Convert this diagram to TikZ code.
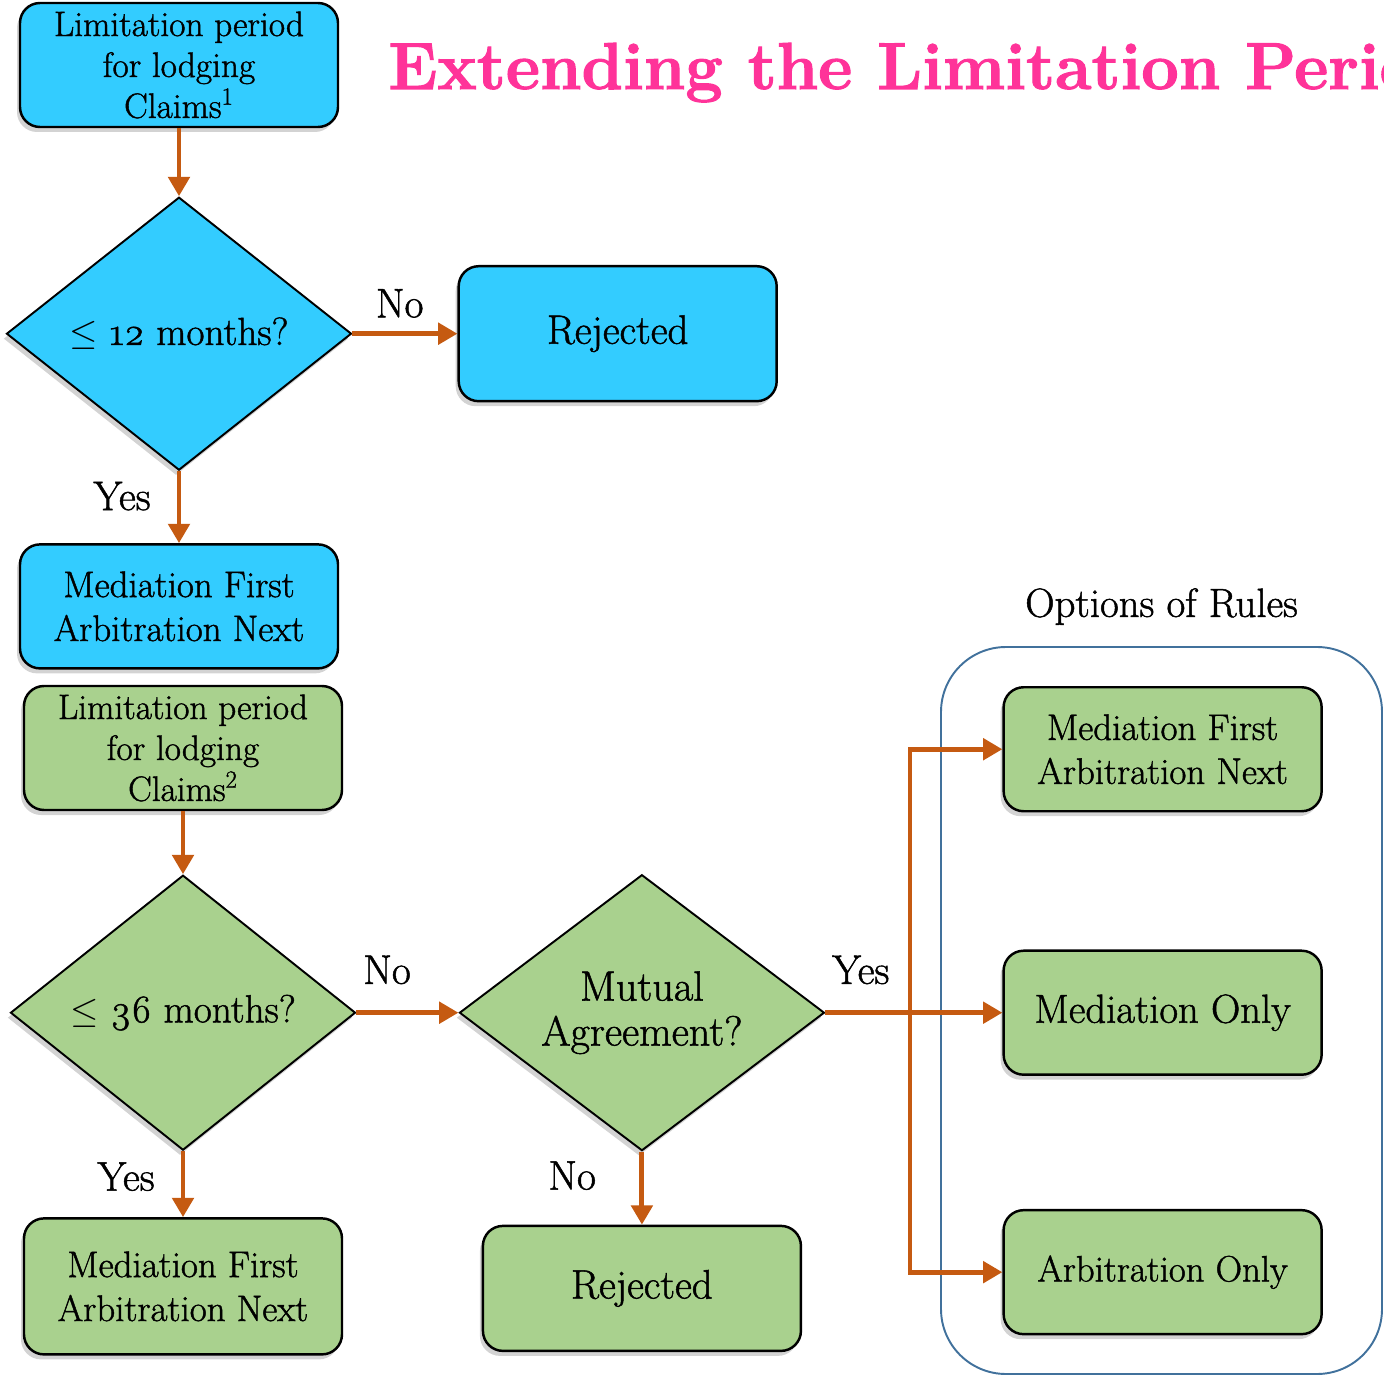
\documentclass[tikz,border=0pt]{standalone}
\usepackage{fontspec}
\newfontfamily\chartfont{Latin Modern Roman}[FakeBold=1.2]
\newfontfamily\titlefont{Latin Modern Roman}[FakeBold=1.6]
\usetikzlibrary{shapes, arrows}
\usetikzlibrary{arrows.meta,shapes.geometric,shadows}
\usetikzlibrary{positioning}

\begin{document}
\begin{tikzpicture}[
		    box/.style={draw,rounded corners=0.4cm,line width=1.4pt,align=center,inner sep=0pt,minimum width=6.36cm,minimum height=2.48cm,drop shadow={shadow xshift=-0.6mm,shadow yshift=-1mm,opacity=0.35}},
		    decision/.style={draw,diamond,aspect=1.3,line width=1.1pt,align=center,inner sep=0pt,minimum width=6.9cm,minimum height=5.46cm,drop shadow={shadow xshift=-0.6mm,shadow yshift=-1mm,opacity=0.35}},
		    flow/.style={-{Triangle[length=11pt,width=12pt]},line width=2.8pt,draw=flowcol},
		    lbl/.style={font=\chartfont\fontsize{23.5}{27}\selectfont,inner sep=2pt}
		]
		    \definecolor{stagea}{HTML}{33CCFF}
		    \definecolor{stageb}{HTML}{A9D18E}
		    \definecolor{flowcol}{HTML}{C55A11}
		    \definecolor{titlecol}{HTML}{FF3399}
		    \definecolor{framecol}{HTML}{41719C}
		    \clip (0,0) rectangle (27.68,-27.52);
		    \node[anchor=base west,inner sep=0pt,text=titlecol,font=\titlefont\fontsize{37.8}{40}\selectfont\bfseries] (title) at (7.76,-1.78) {Extending the Limitation Period};

		    % first regime
		    \node[box,fill=stagea,font=\chartfont\fontsize{20.1}{23.3}\selectfont] (lim1) at (3.58,-1.30) {Limitation period\\for lodging\\Claims\textsuperscript{1}};
		    \node[decision,fill=stagea,below = 1.36cm of lim1,font=\chartfont\fontsize{22.3}{25}\selectfont] (le12) {$\leq$ \oldstylenums{12} months?};
		    \node[box,fill=stagea,right = 2.1cm of le12,minimum height=2.7cm,font=\chartfont\fontsize{23.4}{25}\selectfont] (rej1) {Rejected};
		    \node[box,fill=stagea,below = 1.44cm of le12,font=\chartfont\fontsize{21}{25}\selectfont] (med1) {Mediation First\\Arbitration Next};

		    % second regime
		    \node[box,fill=stageb,font=\chartfont\fontsize{20.1}{23.3}\selectfont] (lim2) at (3.66,-14.96) {Limitation period\\for lodging\\Claims\textsuperscript{2}};
		    \node[decision,fill=stageb,below = 1.26cm of lim2,minimum height=5.5cm,font=\chartfont\fontsize{22.3}{25}\selectfont] (le36) {$\leq$ \oldstylenums{36} months?};
		    \node[decision,fill=stageb,right = 2.04cm of le36,minimum width=7.3cm,minimum height=5.52cm,font=\chartfont\fontsize{24}{25.6}\selectfont] (mutual) {Mutual\\Agreement?};
		    \node[box,fill=stageb,below = 1.32cm of le36,minimum height=2.72cm,font=\chartfont\fontsize{21}{25}\selectfont] (med2) {Mediation First\\Arbitration Next};
		    \node[box,fill=stageb,below = 1.46cm of mutual,minimum height=2.5cm,font=\chartfont\fontsize{23.4}{25}\selectfont] (rej2) {Rejected};

		    % options
		    \node[draw=framecol,line width=1.1pt,rounded corners=1.3cm,minimum width=8.82cm,minimum height=14.54cm] (options) at (23.23,-20.21) {};
		    \node[above = 0.3cm of options,font=\chartfont\fontsize{23.2}{25}\selectfont] (optionstext) {Options of Rules};
		    \node[box,fill=stageb,right = 3.54cm of mutual,font=\chartfont\fontsize{23.1}{25}\selectfont] (medonly) {Mediation Only};
		    \node[box,fill=stageb,above = 2.74cm of medonly,font=\chartfont\fontsize{21}{25}\selectfont] (medarb) {Mediation First\\Arbitration Next};
		    \node[box,fill=stageb,below = 2.66cm of medonly,font=\chartfont\fontsize{20.9}{25}\selectfont] (arbonly) {Arbitration Only};
		    \coordinate (split) at (18.2,-20.2);

		    \draw[flow] (lim1) -- (le12);
		    \draw[flow] (le12.east) -- node[lbl,above=0.2cm,pos=0.45] {No} (rej1.west);
		    \draw[flow] (le12) -- node[lbl,left=0.45cm,yshift=0.22cm] {Yes} (med1);
		    \draw[flow] (lim2) -- (le36);
		    \draw[flow] (le36.east) -- node[lbl,above=0.45cm,pos=0.3] {No} (mutual.west);
		    \draw[flow] (le36) -- node[lbl,left=0.45cm,yshift=0.15cm] {Yes} (med2);
		    \draw[flow] (mutual) -- node[lbl,left=0.6cm,yshift=0.25cm,xshift=-0.2cm] {No} (rej2);
		    \draw[flow] (mutual.east) -- node[lbl,above=0.45cm,pos=0.2] {Yes} (medonly.west);
		    \draw[flow] (split) |- (medarb.west);
		    \draw[flow] (split) |- (arbonly.west);
\end{tikzpicture}
\end{document}
